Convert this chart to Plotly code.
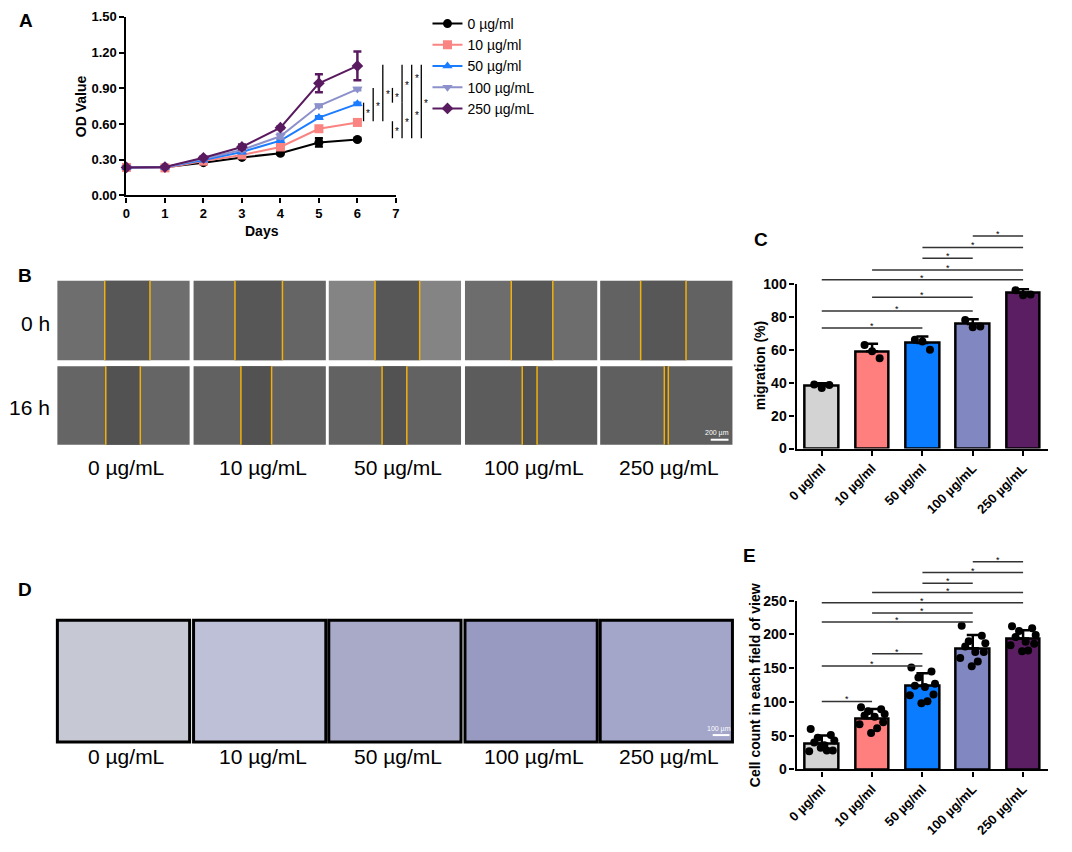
import plotly.graph_objects as go

W, H = 1072, 852
FONT = "Arial, Liberation Sans, Helvetica, sans-serif"

# ---------------- data ----------------
days = [0, 1, 2, 3, 4, 5, 6]
doses_a = ["0 µg/ml", "10 µg/ml", "50 µg/ml", "100 µg/mL", "250 µg/mL"]
od_0 = [0.235, 0.236, 0.275, 0.319, 0.354, 0.445, 0.470]
od_10 = [0.235, 0.231, 0.288, 0.340, 0.407, 0.560, 0.613]
od_50 = [0.235, 0.236, 0.297, 0.365, 0.460, 0.654, 0.769]
od_100 = [0.235, 0.237, 0.308, 0.382, 0.497, 0.753, 0.893]
od_250 = [0.235, 0.238, 0.316, 0.407, 0.569, 0.942, 1.088]
sd_0 = [0.005, 0.005, 0.01, 0.01, 0.01, 0.035, 0.01]
sd_10 = [0.005, 0.005, 0.01, 0.01, 0.01, 0.01, 0.02]
sd_50 = [0.005, 0.005, 0.01, 0.01, 0.01, 0.01, 0.01]
sd_100 = [0.005, 0.005, 0.01, 0.01, 0.02, 0.01, 0.01]
sd_250 = [0.005, 0.005, 0.01, 0.02, 0.01, 0.075, 0.12]
# significance in A: (group low, group high, column slot)
sig_a = [(1, 2, 0), (1, 3, 1), (1, 4, 2), (2, 3, 3), (2, 4, 4), (3, 4, 5),
         (0, 1, 3), (0, 2, 4), (0, 3, 5), (0, 4, 6)]

doses = ["0 µg/ml", "10 µg/ml", "50 µg/ml", "100 µg/mL", "250 µg/mL"]
doses_img = ["0 µg/mL", "10 µg/mL", "50 µg/mL", "100 µg/mL", "250 µg/mL"]

mig_mean = [38.3, 59.0, 64.0, 75.6, 94.6]
mig_sd = [1.3, 4.6, 4.0, 2.8, 2.0]
mig_pts = [[38.8, 36.8, 38.5], [62.9, 59.1, 54.8], [66.0, 65.0, 60.0],
           [78.0, 73.6, 74.0], [96.0, 93.0, 93.5]]
sig_c = [(0, 2, 73.2), (0, 3, 83.5), (1, 3, 91.8), (0, 4, 102.4), (1, 4, 108.3),
         (2, 3, 115.5), (2, 4, 122.0), (3, 4, 129.0)]

cell_mean = [38.5, 75.9, 123.5, 179.4, 194.0]
cell_sd = [11.6, 13.6, 19.0, 19.6, 12.0]
cell_pts = [
    [60, 51, 47, 43, 40, 36, 28, 27, 28, 32],
    [92, 89, 86, 82, 80, 78, 70, 67, 61, 54],
    [151, 145, 136, 127, 124, 122, 111, 110, 101, 98],
    [213, 198, 190, 187, 182, 174, 174, 165, 160, 153],
    [212, 209, 205, 199, 196, 189, 186, 184, 176, 175],
]
sig_e = [(0, 1, 100.7), (0, 2, 153.2), (1, 2, 171.2), (0, 3, 218.3), (1, 3, 231.9),
         (0, 4, 247.0), (1, 4, 262.0), (2, 3, 275.7), (2, 4, 291.7), (3, 4, 307.7)]

# wound edges in B as fraction of tile width
wound_0h = [(0.358, 0.700), (0.313, 0.672), (0.350, 0.687), (0.350, 0.664), (0.306, 0.649)]
wound_16h = [(0.366, 0.627), (0.358, 0.590), (0.403, 0.590), (0.433, 0.545), (0.485, 0.515)]

# ---------------- layout helpers ----------------
line_cols = ["#000000", "#F98481", "#1C7CFF", "#8C91CB", "#5A1A60"]
line_syms = ["circle", "square", "triangle-up", "triangle-down", "diamond"]
bar_cols = ["#D3D3D3", "#FF7F7F", "#0A7CFF", "#8187C0", "#5C1E62"]

BOX_A = dict(x0=118, x1=391, yb=191, yt=9, xr=(0, 7), yr=(0, 1.5))
BOX_C = dict(x0=797, x1=1052, yb=449, yt=281, xr=(-0.5, 4.5), yr=(0, 100))
BOX_E = dict(x0=797, x1=1052, yb=776, yt=604, xr=(-0.5, 4.5), yr=(0, 250))


def dom(box):
    return [box["x0"] / W, box["x1"] / W], [1 - box["yb"] / H, 1 - box["yt"] / H]


def to_px(box, x, y):
    xr, yr = box["xr"], box["yr"]
    px = box["x0"] + (x - xr[0]) / (xr[1] - xr[0]) * (box["x1"] - box["x0"])
    py = box["yb"] - (y - yr[0]) / (yr[1] - yr[0]) * (box["yb"] - box["yt"])
    return px, py


def pp(px, py):
    return px / W, 1 - py / H


shapes = []
annotations = []


def add_line(x0, y0, x1, y1, color="#000000", width=1.5):
    a, b = pp(x0, y0)
    c, d = pp(x1, y1)
    shapes.append(dict(type="line", xref="paper", yref="paper", x0=a, y0=b, x1=c, y1=d,
                       line=dict(color=color, width=width)))


def add_rect(x0, y0, x1, y1, fill, line_color=None, line_width=0):
    a, b = pp(x0, y0)
    c, d = pp(x1, y1)
    shapes.append(dict(type="rect", xref="paper", yref="paper", x0=a, y0=d, x1=c, y1=b,
                       fillcolor=fill, layer="below",
                       line=dict(color=line_color or fill, width=line_width)))


def add_text(px, py, text, size=14, bold=False, color="#000000", xanchor="center",
             yanchor="middle", angle=0):
    a, b = pp(px, py)
    annotations.append(dict(xref="paper", yref="paper", x=a, y=b, text=text, showarrow=False,
                            xanchor=xanchor, yanchor=yanchor, textangle=angle, borderpad=0,
                            font=dict(family=FONT, size=size, color=color,
                                      weight="bold" if bold else "normal")))


fig = go.Figure()

# ---------------- panel A ----------------
od_all = [od_0, od_10, od_50, od_100, od_250]
sd_all = [sd_0, sd_10, sd_50, sd_100, sd_250]
for i in range(5):
    fig.add_trace(go.Scatter(
        x=days, y=od_all[i], name=doses_a[i], mode="lines+markers",
        line=dict(color=line_cols[i], width=2),
        marker=dict(symbol=line_syms[i], size=9, color=line_cols[i]),
        error_y=dict(type="data", array=sd_all[i], color=line_cols[i], thickness=2.5, width=4),
        cliponaxis=False, xaxis="x", yaxis="y"))

for lo, hi, slot in sig_a:
    xd = 6.16 + 0.25 * slot
    px, pyl = to_px(BOX_A, xd, od_all[lo][-1] + 0.01)
    _, pyh = to_px(BOX_A, xd, od_all[hi][-1] + 0.01)
    add_line(px, pyl, px, pyh, width=1.3)
    add_text(px + 5, (pyl + pyh) / 2 + 2, "*", size=10)

add_text(72, 100, "OD Value", size=14, bold=True, angle=-90)
add_text(255, 227, "Days", size=14, bold=True)
add_text(16, 13, "A", size=19, bold=True)

# ---------------- panel C / E bars ----------------
jit3 = [-0.15, 0.0, 0.15]
jit10 = [-0.22, 0.18, -0.08, 0.25, -0.15, 0.05, 0.22, -0.25, 0.10, -0.02]


def bar_panel(xa, ya, box, means, sds, pts, jit, sigs):
    cats = list(range(len(means)))
    fig.add_trace(go.Bar(
        x=cats, y=means, width=0.67, xaxis=xa, yaxis=ya, showlegend=False,
        marker=dict(color=bar_cols, line=dict(color="#000000", width=2.5)),
        error_y=dict(type="data", array=sds, arrayminus=[0] * len(sds), symmetric=False,
                     color="#000000", thickness=2.5, width=6)))
    px_, py_ = [], []
    for i, vals in enumerate(pts):
        for k, v in enumerate(vals):
            px_.append(i + jit[k % len(jit)])
            py_.append(v)
    fig.add_trace(go.Scatter(
        x=px_, y=py_, mode="markers", xaxis=xa, yaxis=ya, showlegend=False,
        marker=dict(color="#000000", size=8), cliponaxis=False))
    for a, b, h in sigs:
        x0, y0 = to_px(box, a, h)
        x1, _ = to_px(box, b, h)
        add_line(x0, y0, x1, y0, color="#333333", width=1.5)
        add_text((x0 + x1) / 2, y0 - 2, "*", size=9)


bar_panel("x2", "y2", BOX_C, mig_mean, mig_sd, mig_pts, jit3, sig_c)
bar_panel("x3", "y3", BOX_E, cell_mean, cell_sd, cell_pts, jit10, sig_e)

add_text(760, 365, "migration (%)", size=14, bold=True, angle=-90)
add_text(755, 690, "Cell count in each field of view", size=14, bold=True, angle=-90)
add_text(761, 236, "C", size=19, bold=True)
add_text(749, 558, "E", size=19, bold=True)

# ---------------- panel B (scratch images) ----------------
col_x = [48, 186, 323, 461, 598]
tile_w = 134
rows = [(278, 359), (365, 445)]
cell_fill = [["#6E6E6E", "#656565", "#848484", "#6D6D6D", "#626262"],
             ["#656565", "#616161", "#626262", "#5C5C5C", "#5F5F5F"]]
gap_fill = ["#575757", "#525252"]
for r, (ty0, ty1) in enumerate(rows):
    edges = wound_0h if r == 0 else wound_16h
    for c, x0 in enumerate(col_x):
        add_rect(x0, ty0, x0 + tile_w, ty1, cell_fill[r][c])
        e0, e1 = edges[c]
        add_rect(x0 + e0 * tile_w, ty0, x0 + e1 * tile_w, ty1, gap_fill[r])
        add_line(x0 + e0 * tile_w, ty0, x0 + e0 * tile_w, ty1, color="#F2B00C", width=1.5)
        add_line(x0 + e1 * tile_w, ty0, x0 + e1 * tile_w, ty1, color="#F2B00C", width=1.5)
add_line(710, 440, 728, 440, color="#FFFFFF", width=2)
add_text(716, 433, "200 µm", size=7, color="#FFFFFF")
add_text(42, 322, "0 h", size=21, xanchor="right")
add_text(42, 407, "16 h", size=21, xanchor="right")
for c, x0 in enumerate(col_x):
    add_text(x0 + tile_w / 2 + 3, 468, doses_img[c], size=21)
add_text(15, 273, "B", size=19, bold=True)

# ---------------- panel D (transwell images) ----------------
d_fill = ["#C6C8D4", "#BEC0D7", "#A8AAC7", "#989AC1", "#A3A5C9"]
for c, x0 in enumerate(col_x):
    add_rect(x0, 624, x0 + tile_w, 748, d_fill[c], line_color="#000000", line_width=3)
add_line(712, 741, 729, 741, color="#FFFFFF", width=2)
add_text(718, 735, "100 µm", size=7, color="#FFFFFF")
for c, x0 in enumerate(col_x):
    add_text(x0 + tile_w / 2 + 3, 763, doses_img[c], size=21)
add_text(15, 593, "D", size=19, bold=True)

# ---------------- axes ----------------
axis_common = dict(showline=True, linecolor="#000000", linewidth=2.2, ticks="outside",
                   ticklen=5, tickwidth=2, tickcolor="#000000", showgrid=False,
                   zeroline=False, tickfont=dict(family=FONT, size=13, weight="bold",
                                                 color="#000000"))
xd, yd = dom(BOX_A)
fig.update_layout(
    xaxis=dict(domain=xd, anchor="y", range=[0, 7], tickvals=list(range(8)), **axis_common),
    yaxis=dict(domain=yd, anchor="x", range=[0, 1.5], tickvals=[0, 0.3, 0.6, 0.9, 1.2, 1.5],
               tickformat=".2f", **axis_common),
)
for xa, ya, box, ytv in [("xaxis2", "yaxis2", BOX_C, [0, 20, 40, 60, 80, 100]),
                         ("xaxis3", "yaxis3", BOX_E, [0, 50, 100, 150, 200, 250])]:
    xd, yd = dom(box)
    n = xa[-1]
    fig.update_layout({
        xa: dict(domain=xd, anchor="y" + n, range=list(box["xr"]), tickvals=list(range(5)),
                 ticktext=doses, tickangle=-45, **axis_common),
        ya: dict(domain=yd, anchor="x" + n, range=list(box["yr"]), tickvals=ytv,
                 **{**axis_common, "tickfont": dict(family=FONT, size=14, weight="bold",
                                                    color="#000000")}),
    })

fig.update_layout(
    width=W, height=H, autosize=False,
    margin=dict(l=0, r=0, t=0, b=0),
    paper_bgcolor="#FFFFFF", plot_bgcolor="rgba(0,0,0,0)",
    font=dict(family=FONT, color="#000000"),
    shapes=shapes, annotations=annotations,
    legend=dict(x=423 / W, y=1.0, xanchor="left", yanchor="top",
                font=dict(family=FONT, size=14), bgcolor="rgba(0,0,0,0)",
                tracegroupgap=0),
    bargap=0,
)

fig.write_html("out.html", config={"displayModeBar": False},
               post_script="document.body.style.margin='0px';")
